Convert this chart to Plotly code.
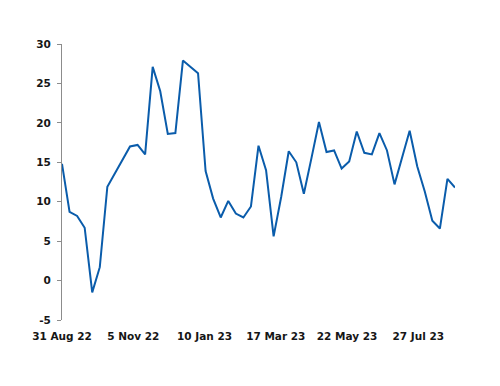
import plotly.graph_objects as go
import pandas as pd

start_date = "2022-08-31"
values = [14.8, 8.7, 8.2, 6.7, -1.5, 1.7, 11.9, 13.6, 15.3, 17.0,
          17.2, 16.0, 27.1, 24.0, 18.6, 18.7, 27.9, 27.1, 26.3, 13.9,
          10.4, 8.0, 10.1, 8.5, 8.0, 9.4, 17.1, 14.0, 5.6, 10.6,
          16.4, 15.0, 11.0, 15.5, 20.1, 16.3, 16.5, 14.2, 15.1, 18.9,
          16.2, 16.0, 18.7, 16.5, 12.2, 15.6, 19.0, 14.5, 11.3, 7.6,
          6.6, 12.9, 11.8]
dates = pd.date_range(start_date, periods=len(values), freq="7D")

tick_dates = ["2022-08-31", "2022-11-05", "2023-01-10", "2023-03-17", "2023-05-22", "2023-07-27"]
tick_labels = ["31 Aug 22", "5 Nov 22", "10 Jan 23", "17 Mar 23", "22 May 23", "27 Jul 23"]
y_ticks = [-5, 0, 5, 10, 15, 20, 25, 30]
y_labels = ["-5", "0", "5", "10", "15", "20", "25", "30"]

y_min, y_max = -5, 30
x_range = [dates[0], dates[-1]]

fig = go.Figure()
fig.add_trace(go.Scatter(x=dates, y=values, mode="lines",
                         line=dict(color="#0A5CAB", width=2),
                         xaxis="x", yaxis="y", showlegend=False))

font = dict(family="DejaVu Sans", size=10.5, color="#161616", weight="bold")

fig.update_layout(
    width=492, height=378,
    margin=dict(l=54, r=45, t=36, b=66),
    paper_bgcolor="white", plot_bgcolor="white",
    font=font,
    xaxis=dict(range=x_range, tickvals=tick_dates, ticktext=tick_labels,
               showline=False, showgrid=False, zeroline=False, ticks="",
               tickfont=font, ticklabelstandoff=8),
    xaxis2=dict(range=x_range, overlaying="x", anchor="free",
                position=(0 - y_min) / (y_max - y_min),
                tickvals=tick_dates, showticklabels=False,
                showline=True, linecolor="#8c8c8c", linewidth=1,
                ticks="outside", ticklen=4, tickcolor="#8c8c8c",
                showgrid=False, zeroline=False),
    yaxis=dict(range=[y_min, y_max], tickvals=y_ticks, ticktext=y_labels,
               showline=True, linecolor="#8c8c8c", linewidth=1,
               ticks="outside", ticklen=4, tickcolor="#8c8c8c",
               showgrid=False, zeroline=False, tickfont=font,
               ticklabelstandoff=4),
)

fig.write_html("out.html")
